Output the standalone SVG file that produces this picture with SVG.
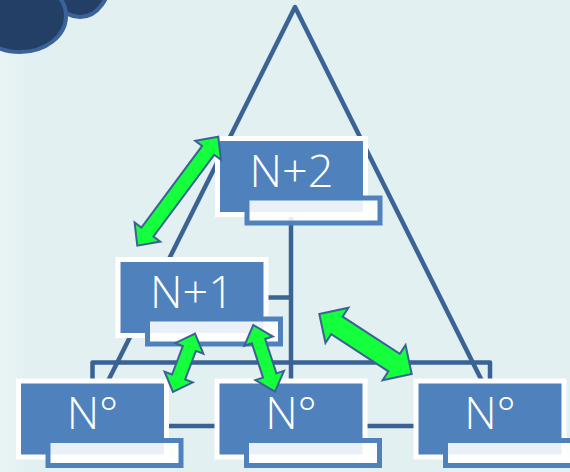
<svg xmlns="http://www.w3.org/2000/svg" width="570" height="472" viewBox="0 0 570 472">
  <defs>
    <style>
      .line { fill: none; stroke: #3b6294; stroke-width: 4.5; stroke-linejoin: round; }
      .card { fill: #4f81bd; stroke: #ffffff; stroke-width: 5; }
      .sub { fill: #ffffff; fill-opacity: 0.88; stroke: #4f81bd; stroke-width: 5; }
      .lbl { fill: #ffffff; font-family: "Open Sans", "Liberation Sans", Arial, sans-serif; font-weight: 300; font-size: 45px; text-anchor: middle; }
      .arr { fill: #14ff3c; stroke: #3b6294; stroke-width: 2; stroke-linejoin: miter; }
      .orb { fill: #243f66; stroke: #3b6399; stroke-width: 4; }
    </style>
    <linearGradient id="bg" x1="0" y1="0" x2="1" y2="0">
      <stop offset="0" stop-color="#e8f3f4"/>
      <stop offset="0.05" stop-color="#e3f0f1"/>
      <stop offset="1" stop-color="#e2f0f1"/>
    </linearGradient>
  </defs>
  <rect x="0" y="0" width="570" height="472" fill="url(#bg)"/>

  <g id="decor">
    <ellipse class="orb" cx="80" cy="-25" rx="31" ry="42"/>
    <ellipse class="orb" cx="20" cy="16" rx="46" ry="36"/>
  </g>

  <g id="connectors">
    <polygon class="line" points="295,7 85.5,426 504.5,426"/>
    <path class="line" d="M291,212 V384"/>
    <path class="line" d="M263,297.5 H291"/>
    <path class="line" d="M92.5,384 V362.5 H490 V384"/>
  </g>

  <g id="node-n2">
    <rect class="card" x="217.5" y="138.5" width="148" height="76"/>
    <rect class="sub" x="247" y="198" width="133" height="25"/>
    <text class="lbl" x="291.5" y="186.5">N+2</text>
  </g>
  <g id="node-n1">
    <rect class="card" x="118" y="259.5" width="148" height="76"/>
    <rect class="sub" x="147.5" y="319" width="133" height="25"/>
    <text class="lbl" x="192" y="307.5">N+1</text>
  </g>
  <g id="node-b1">
    <rect class="card" x="18.5" y="381" width="148" height="76"/>
    <rect class="sub" x="48" y="440.5" width="133" height="25"/>
    <text class="lbl" x="92.5" y="429">N°</text>
  </g>
  <g id="node-b2">
    <rect class="card" x="217" y="381" width="148" height="76"/>
    <rect class="sub" x="246.5" y="440.5" width="133" height="25"/>
    <text class="lbl" x="291" y="429">N°</text>
  </g>
  <g id="node-b3">
    <rect class="card" x="416" y="381" width="148" height="76"/>
    <rect class="sub" x="445.5" y="440.5" width="133" height="25"/>
    <text class="lbl" x="490" y="429">N°</text>
  </g>

  <g id="arrows">
    <polygon class="arr" transform="translate(137.3,245.7) rotate(-53.4)" points="0,0 17,-16 17,-7.5 118.8,-7.5 118.8,-16 135.8,0 118.8,16 118.8,7.5 17,7.5 17,16"/>
    <polygon class="arr" transform="translate(173,392) rotate(-69.4)" points="0,0 16,-15 16,-7 46.5,-7 46.5,-15 62.5,0 46.5,15 46.5,7 16,7 16,15"/>
    <polygon class="arr" transform="translate(253.3,325) rotate(72)" points="0,0 17,-15 17,-7 53.1,-7 53.1,-15 70.1,0 53.1,15 53.1,7 17,7 17,15"/>
    <polygon class="arr" transform="translate(319.3,314) rotate(33)" points="0,0 21,-21 21,-10.5 89.2,-10.5 89.2,-21 110.2,0 89.2,21 89.2,10.5 21,10.5 21,21"/>
  </g>
</svg>
